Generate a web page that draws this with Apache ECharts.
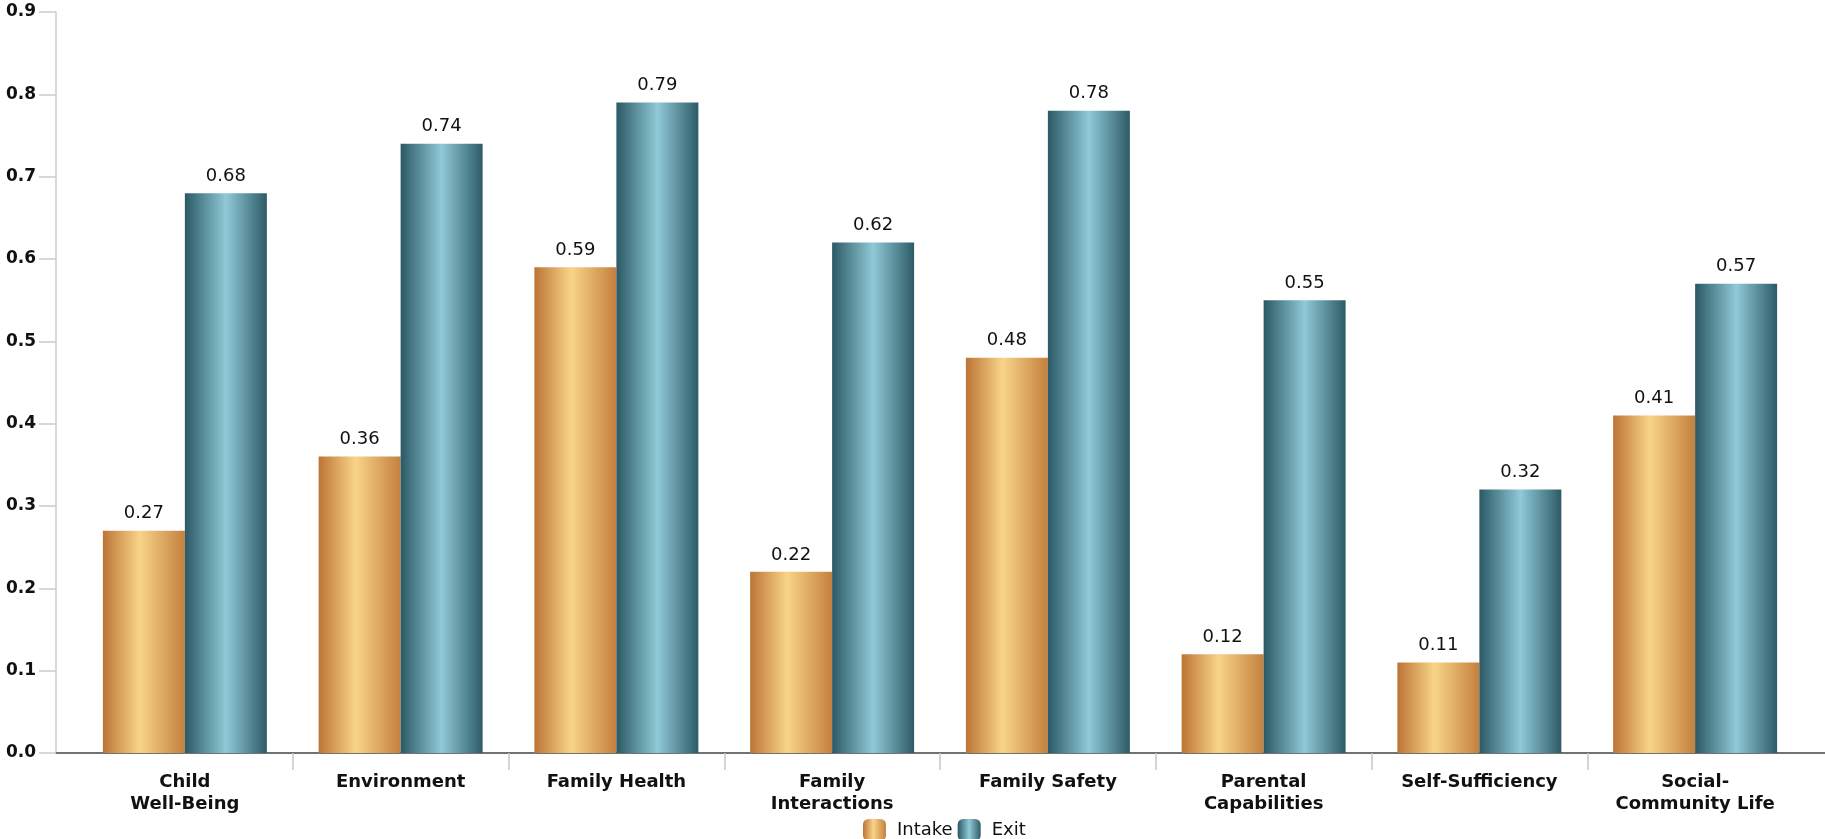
<!DOCTYPE html>
<html><head><meta charset="utf-8">
<script src="https://cdn.jsdelivr.net/npm/echarts@6/dist/echarts.min.js"></script>
<style>html,body{margin:0;padding:0;background:#fff}#c{width:1825px;height:839px}</style>
</head><body><div id="c"></div>
<script>
const categories = ['Child\nWell-Being','Environment','Family Health','Family\nInteractions','Family Safety','Parental\nCapabilities','Self-Sufficiency','Social-\nCommunity Life'];
const intake = [0.27,0.36,0.59,0.22,0.48,0.12,0.11,0.41];
const exitVals = [0.68,0.74,0.79,0.62,0.78,0.55,0.32,0.57];
const yTicks = {min:0,max:0.9,interval:0.1};
const innerBounds = categories.slice(1).map((_,i)=>i+1);

const gradIntake = new echarts.graphic.LinearGradient(0,0,1,0,[
  {offset:0,color:'#bd7436'},{offset:0.45,color:'#f8d488'},{offset:1,color:'#c4803e'}]);
const gradExit = new echarts.graphic.LinearGradient(0,0,1,0,[
  {offset:0,color:'#2b5965'},{offset:0.5,color:'#90c9d7'},{offset:1,color:'#2d5b67'}]);

const chart = echarts.init(document.getElementById('c'));
const lbl = {show:true,position:'top',distance:8,fontFamily:'DejaVu Sans',fontSize:18,color:'#111',
  formatter:p=>p.value.toFixed(2)};
chart.setOption({
  animation:false,
  grid:[{left:77,right:22,top:12,bottom:86},{left:56,right:0,top:12,bottom:86}],
  legend:{data:['Intake','Exit'],left:858,top:814,itemWidth:23,itemHeight:22,itemGap:5,
    textStyle:{fontFamily:'DejaVu Sans',fontSize:18,color:'#111',padding:[0,0,0,6]}},
  xAxis:[{type:'category',data:categories,gridIndex:0,
    axisLine:{show:false,onZero:false},
    axisTick:{show:false},
    axisLabel:{fontFamily:'DejaVu Sans',fontWeight:'bold',fontSize:18,color:'#111',lineHeight:22,margin:18,interval:0}},
    {type:'category',data:[''],gridIndex:1,axisLine:{show:true,onZero:false,lineStyle:{color:'#444',width:1.5}},
    axisTick:{show:false},axisLabel:{show:false}},
    {type:'value',gridIndex:0,min:0,max:categories.length,position:'bottom',
      axisLine:{show:false,onZero:false},splitLine:{show:false},axisLabel:{show:false},
      axisTick:{show:true,length:17,customValues:innerBounds,lineStyle:{color:'#c8c8c8',width:1.5}}}],
  yAxis:[{type:'value',gridIndex:0,min:yTicks.min,max:yTicks.max,interval:yTicks.interval,offset:21,
    axisLine:{show:true,onZero:false,lineStyle:{color:'#cccccc',width:1.5}},
    axisTick:{show:true,length:17,lineStyle:{color:'#cccccc',width:1.5}},
    splitLine:{show:false},
    axisLabel:{fontFamily:'DejaVu Sans',fontWeight:'bold',fontSize:17,color:'#111',margin:20,formatter:v=>v.toFixed(1)}},
    {type:'value',gridIndex:1,min:0,max:0.9,show:false}],
  series:[
    {name:'Intake',type:'bar',data:intake,barWidth:'38%',barGap:'0%',itemStyle:{color:gradIntake},label:lbl},
    {name:'Exit',type:'bar',data:exitVals,barWidth:'38%',barGap:'0%',itemStyle:{color:gradExit},label:lbl}
  ]
});
</script></body></html>
